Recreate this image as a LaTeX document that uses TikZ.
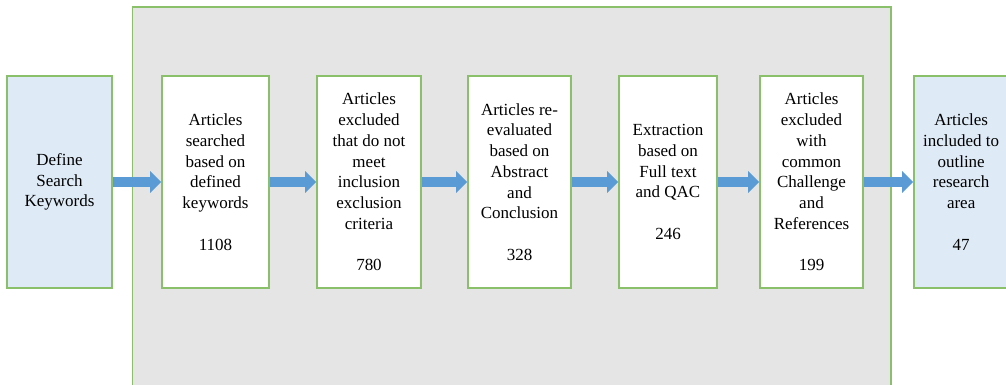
\documentclass[tikz,border=0pt]{standalone}
\usepackage{fontspec}
\setmainfont{Liberation Serif}
\usepackage{tikz}
\usetikzlibrary{arrows.meta}
\definecolor{boxgreen}{RGB}{138,192,106}
\definecolor{panelgray}{RGB}{229,229,229}
\definecolor{keyblue}{RGB}{222,235,247}
\definecolor{flowblue}{RGB}{91,155,213}
\newcommand{\stepfont}{\rmfamily\fontsize{14.5}{17.7}\selectfont}
\tikzset{
   main node/.style={rectangle,draw=boxgreen,line width=1.3pt,fill=white,align=center,
                     inner sep=0pt,minimum height=6.36cm,font=\stepfont},
   key node/.style={main node,fill=keyblue},
   panel/.style={draw=boxgreen,line width=1.5pt,fill=panelgray}
}
\begin{document}
\begin{tikzpicture}[line width=0.3cm,-{Triangle[length=0.33cm,width=0.63cm]}]
\useasboundingbox (0,0) rectangle (30.18,11.55);
% grey frame
\draw [panel,-] (3.975,-0.3) rectangle (26.73,11.34);

% start
\node[key node, minimum width=3.15cm] (1) at (1.785,6.09) {Define\\Search\\Keywords};

% screening steps
\node[main node, minimum width=3.21cm] (2) at (6.465,6.09) {Articles\\searched\\based on\\defined\\keywords\\[\baselineskip]1108};
\node[main node, minimum width=3.12cm] (3) at (11.07,6.09) {Articles\\excluded\\that do not\\meet\\inclusion\\exclusion\\criteria\\[\baselineskip]780};
\node[main node, minimum width=3.09cm] (4) at (15.585,6.09) {Articles re-\\evaluated\\based on\\Abstract\\and\\Conclusion\\[\baselineskip]328};
\node[main node, minimum width=2.94cm] (5) at (20.04,6.09) {Extraction\\based on\\Full text\\and QAC\\[\baselineskip]246};
\node[main node, minimum width=3.09cm] (6) at (24.345,6.09) {Articles\\excluded\\with\\common\\Challenge\\and\\References\\[\baselineskip]199};

% result
\node[key node, minimum width=2.83cm] (7) at (28.835,6.09) {Articles\\included to\\outline\\research\\area\\[\baselineskip]47};

\path[color=flowblue]
  (1) edge (2)
  (2) edge (3)
  (3) edge (4)
  (4) edge (5)
  (5) edge (6)
  (6) edge (7)
;
\end{tikzpicture}
\end{document}
